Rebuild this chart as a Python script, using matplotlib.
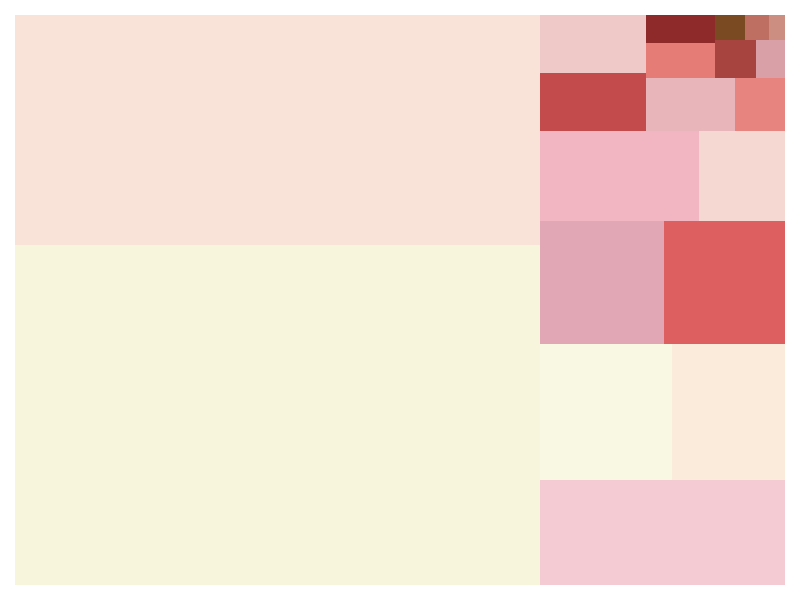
import matplotlib
matplotlib.use("Agg")
import matplotlib.pyplot as plt
from matplotlib.patches import Rectangle

# Data (descending order)
values = [178500, 120750, 25725, 17952, 15368, 15252, 14883, 14310, 7740,
          6180, 6116, 4744, 2667, 2415, 1911, 1546, 1093, 750, 600, 400]
colors = ["#F7F6DC", "#F9E3D8", "#F4CBD2", "#F9F9E3", "#FAEBDA", "#E2A7B4",
          "#DE5F5F", "#F2B6C3", "#F5D8D2", "#C44B4B", "#EEC9C7", "#E8B5BA",
          "#E8847F", "#E57C75", "#8E2A2A", "#A84440", "#D9A0A8", "#7A4A22",
          "#BF6F62", "#CC8E80"]


def normalize(sizes, dx, dy):
    total = sum(sizes)
    return [s * dx * dy / total for s in sizes]


def layoutrow(sizes, x, y, dx, dy):
    width = sum(sizes) / dy
    rects = []
    for s in sizes:
        rects.append((x, y, width, s / width))
        y += s / width
    return rects


def layoutcol(sizes, x, y, dx, dy):
    height = sum(sizes) / dx
    rects = []
    for s in sizes:
        rects.append((x, y, s / height, height))
        x += s / height
    return rects


def layout(sizes, x, y, dx, dy):
    return layoutrow(sizes, x, y, dx, dy) if dx >= dy else layoutcol(sizes, x, y, dx, dy)


def leftover(sizes, x, y, dx, dy):
    a = sum(sizes)
    if dx >= dy:
        w = a / dy
        return x + w, y, dx - w, dy
    h = a / dx
    return x, y + h, dx, dy - h


def worst(sizes, x, y, dx, dy):
    return max(max(r[2] / r[3], r[3] / r[2]) for r in layout(sizes, x, y, dx, dy))


def squarify(sizes, x, y, dx, dy):
    if not sizes:
        return []
    if len(sizes) == 1:
        return layout(sizes, x, y, dx, dy)
    i = 1
    while i < len(sizes) and worst(sizes[:i], x, y, dx, dy) >= worst(sizes[:i + 1], x, y, dx, dy):
        i += 1
    cur, rem = sizes[:i], sizes[i:]
    lx, ly, ldx, ldy = leftover(cur, x, y, dx, dy)
    return layout(cur, x, y, dx, dy) + squarify(rem, lx, ly, ldx, ldy)


fig = plt.figure(figsize=(8, 6), dpi=100)
ax = fig.add_axes([15 / 800, 15 / 600, 770 / 800, 570 / 600])
rects = squarify(normalize(values, 100, 100), 0, 0, 100, 100)
for (x, y, w, h), c in zip(rects, colors):
    ax.add_patch(Rectangle((x, y), w, h, facecolor=c, edgecolor="none", linewidth=0))
ax.set_xlim(0, 100)
ax.set_ylim(0, 100)
ax.axis("off")
fig.savefig("out.png", dpi=100, facecolor="white")
